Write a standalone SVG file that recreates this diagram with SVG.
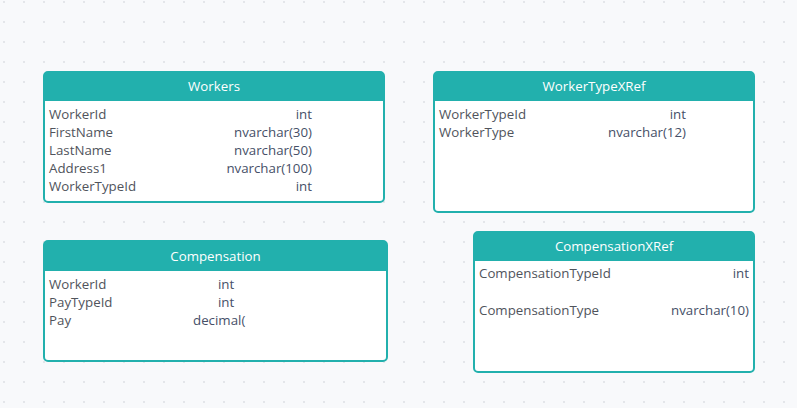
<svg xmlns="http://www.w3.org/2000/svg" width="797" height="408" viewBox="0 0 797 408">
<defs>
<pattern id="dots" x="0" y="0" width="20" height="20" patternUnits="userSpaceOnUse">
<circle cx="4" cy="2" r="1.1" fill="#dfe1e6"/>
</pattern>
<style>
.box{fill:#ffffff;stroke:#22b0ad;stroke-width:2}
.hdr{fill:#22b0ad}
.title{font-family:"Open Sans","Noto Sans",sans-serif;font-size:13.3px;fill:#ffffff;text-anchor:middle}
.f{font-family:"Open Sans","Noto Sans",sans-serif;font-size:13.3px;fill:#50545c}
.t{font-family:"Open Sans","Noto Sans",sans-serif;font-size:13.3px;fill:#465068}
.r{text-anchor:end}
</style>
</defs>
<rect width="797" height="408" fill="#f8f9fb"/>
<rect width="797" height="408" fill="url(#dots)"/>
<g id="connectors"></g>
<g id="Workers">
<rect class="box" x="44" y="72" width="340" height="130" rx="4"/>
<path class="hdr" d="M44,101 V76 a4,4 0 0 1 4,-4 H380 a4,4 0 0 1 4,4 V101 Z"/>
<text class="title" x="214" y="91">Workers</text>
<text class="f" x="49" y="119">WorkerId</text><text class="t r" x="312" y="119">int</text>
<text class="f" x="49" y="137">FirstName</text><text class="t r" x="312" y="137">nvarchar(30)</text>
<text class="f" x="49" y="155">LastName</text><text class="t r" x="312" y="155">nvarchar(50)</text>
<text class="f" x="49" y="173">Address1</text><text class="t r" x="312" y="173">nvarchar(100)</text>
<text class="f" x="49" y="191">WorkerTypeId</text><text class="t r" x="312" y="191">int</text>
</g>
<g id="WorkerTypeXRef">
<rect class="box" x="434" y="72" width="320" height="140" rx="4"/>
<path class="hdr" d="M434,101 V76 a4,4 0 0 1 4,-4 H750 a4,4 0 0 1 4,4 V101 Z"/>
<text class="title" x="594" y="91">WorkerTypeXRef</text>
<text class="f" x="439" y="119">WorkerTypeId</text><text class="t r" x="686" y="119">int</text>
<text class="f" x="439" y="137">WorkerType</text><text class="t r" x="686" y="137">nvarchar(12)</text>
</g>
<g id="Compensation">
<rect class="box" x="44" y="241" width="343" height="120" rx="4"/>
<path class="hdr" d="M44,271 V245 a4,4 0 0 1 4,-4 H383 a4,4 0 0 1 4,4 V271 Z"/>
<text class="title" x="215.5" y="261">Compensation</text>
<text class="f" x="49" y="289">WorkerId</text><text class="t" x="218" y="289">int</text>
<text class="f" x="49" y="307">PayTypeId</text><text class="t" x="218" y="307">int</text>
<text class="f" x="49" y="325">Pay</text><text class="t" x="193" y="325">decimal(</text>
</g>
<g id="CompensationXRef">
<rect class="box" x="474" y="232" width="280" height="140" rx="4"/>
<path class="hdr" d="M474,261 V236 a4,4 0 0 1 4,-4 H750 a4,4 0 0 1 4,4 V261 Z"/>
<text class="title" x="614" y="251">CompensationXRef</text>
<text class="f" x="479" y="278">CompensationTypeId</text><text class="t r" x="749" y="278">int</text>
<text class="f" x="479" y="315">CompensationType</text><text class="t r" x="749" y="315">nvarchar(10)</text>
</g>
</svg>
